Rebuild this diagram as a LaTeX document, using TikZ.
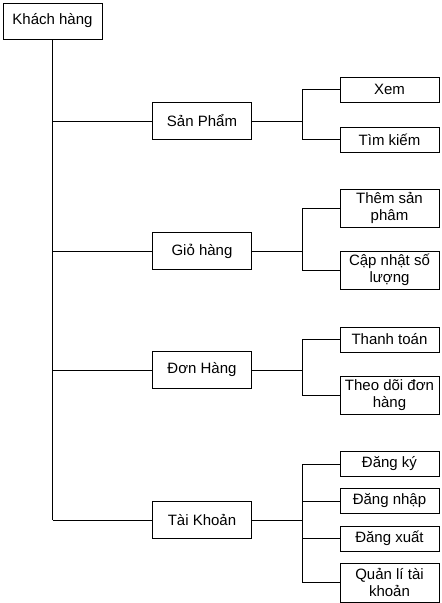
\documentclass[tikz,border=0pt]{standalone}
\usepackage{fontspec}
\setmainfont{Liberation Sans}
\usetikzlibrary{positioning}

\begin{document}
\begin{tikzpicture}[x=1pt,y=-1pt,
  box/.style={draw,line width=1pt,minimum width=99pt,minimum height=37pt,
    inner sep=1pt,font=\fontsize{15}{17}\selectfont},
  leaf/.style={draw,line width=1pt,minimum width=99pt,minimum height=25pt,
    align=center,inner sep=1pt,font=\fontsize{15}{17}\selectfont},
  link/.style={line width=1pt}]
\useasboundingbox (0,0) rectangle (442,603);
% root
\node[box,minimum height=36pt] (root) at (52.5,21) {Khách hàng};
% second level
\node[box] (sp) at (202,121) {Sản Phẩm};
\node[box] (gh) at (202,251) {Giỏ hàng};
\node[box] (dh) at (202,370) {Đơn Hàng};
\node[box] (tk) at (202,520) {Tài Khoản};
% leaves
\node[leaf] (xem) at (389.5,89.5) {Xem};
\node[leaf] (tim) at (389.5,139.5) {Tìm kiếm};
\node[leaf,minimum height=38pt] (them) at (389.5,208) {Thêm sản\\phâm};
\node[leaf,minimum height=38pt] (cap) at (389.5,270) {Cập nhật số\\lượng};
\node[leaf] (thanh) at (389.5,339.5) {Thanh toán};
\node[leaf,minimum height=38pt] (theo) at (389.5,395) {Theo dõi đơn\\hàng};
\node[leaf] (dky) at (389.5,464) {Đăng ký};
\node[leaf] (dnhap) at (389.5,501) {Đăng nhập};
\node[leaf] (dxuat) at (389.5,538.5) {Đăng xuất};
\node[leaf,minimum height=39pt] (qly) at (389.5,582.5) {Quản lí tài\\khoản};
% trunk
\draw[link] (root.south) -- (root.south |- tk.west);
\foreach \p in {sp,gh,dh,tk} {
  \draw[link] (root.south |- \p.west) -- (\p.west);
}
% brackets
\foreach \p/\c in {sp/xem,sp/tim,gh/them,gh/cap,dh/thanh,dh/theo,
                   tk/dky,tk/dnhap,tk/dxuat,tk/qly} {
  \draw[link] (\p.east) -- ++(50,0) |- (\c.west);
}
\end{tikzpicture}
\end{document}
